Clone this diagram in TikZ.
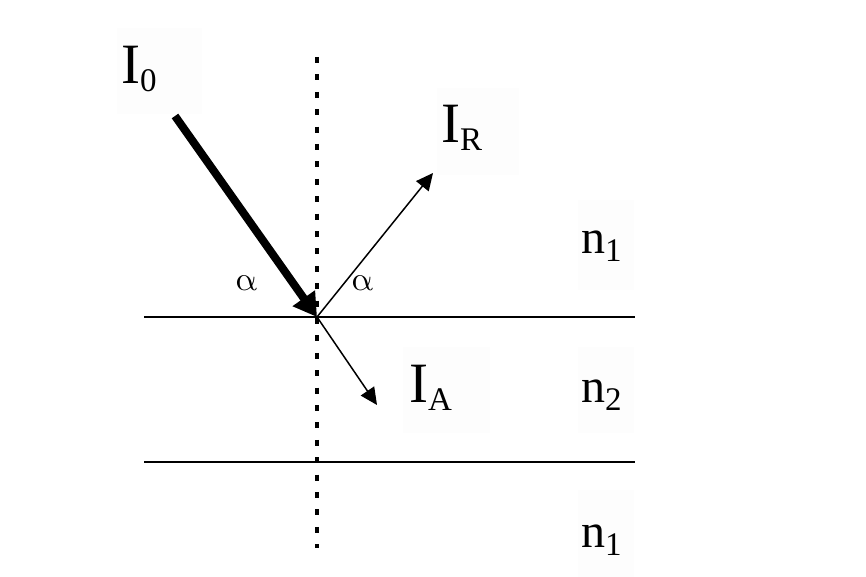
\documentclass[tikz,border=0pt]{standalone}
\usepackage{fontspec}
\setmainfont{Liberation Serif}
\newfontfamily\greekup{Latin Modern Math}
\usetikzlibrary{arrows.meta}

\newcommand{\lowsub}[1]{\raisebox{-8pt}{\fontsize{33}{33}\selectfont #1}}

\begin{document}
\begin{tikzpicture}[x=1pt,y=-1pt,
biglabel/.style={inner sep=0pt, anchor=base west, font=\fontsize{57}{60}\selectfont},
midlabel/.style={inner sep=0pt, anchor=base west, font=\fontsize{48}{52}\selectfont},
anglelabel/.style={inner sep=0pt, anchor=base west, font=\greekup\fontsize{34}{38}\selectfont},
labelbox/.style={fill=black!0.8},
surface/.style={line width=1.5pt},
dotline/.style={line width=3.2pt, dash pattern=on 6pt off 11.4pt},
ray/.style={line width=1.5pt, -{Triangle[length=17pt,width=16pt]}},
beam/.style={line width=8pt, -{Triangle[length=23pt,width=26pt]}},
]
\useasboundingbox (0,0) rectangle (866,577);

% faint text frames
\foreach \xa/\ya/\xb/\yb in {117/28/202/114, 437/88/519/175, 403/347/490/433,
  578/200/634/290, 578/347/634/433, 578/490/634/577}
  \fill[labelbox] (\xa,\ya) rectangle (\xb,\yb);

\coordinate (hit) at (317,317);
\coordinate (start) at (175,116);
\coordinate (reflend) at (433,173);
\coordinate (transend) at (377,405);
\coordinate (normtop) at (317,57);
\coordinate (normbot) at (317,548);
\coordinate (upleft) at (144,317);
\coordinate (upright) at (635,317);
\coordinate (lowleft) at (144,462);
\coordinate (lowright) at (635,462);

\node[biglabel] (izero) at (121,84) {I\lowsub{0}};
\node[biglabel] (irefl) at (441,143) {I\lowsub{R}};
\node[biglabel] (iabs) at (409,402) {I\lowsub{A}};
\node[midlabel] (ntop) at (581,253) {n\lowsub{1}};
\node[midlabel] (nmid) at (581,402) {n\lowsub{2}};
\node[midlabel] (nbot) at (581,547) {n\lowsub{1}};
\node[anglelabel] (aleft) at (235,290) {α};
\node[anglelabel] (aright) at (351,290) {α};

\draw[dotline] (normtop) -- (normbot);
\draw[surface] (upleft) -- (upright);
\draw[surface] (lowleft) -- (lowright);
\draw[beam] (start) -- (hit);
\draw[ray] (hit) -- (reflend);
\draw[ray] (hit) -- (transend);
\end{tikzpicture}
\end{document}
